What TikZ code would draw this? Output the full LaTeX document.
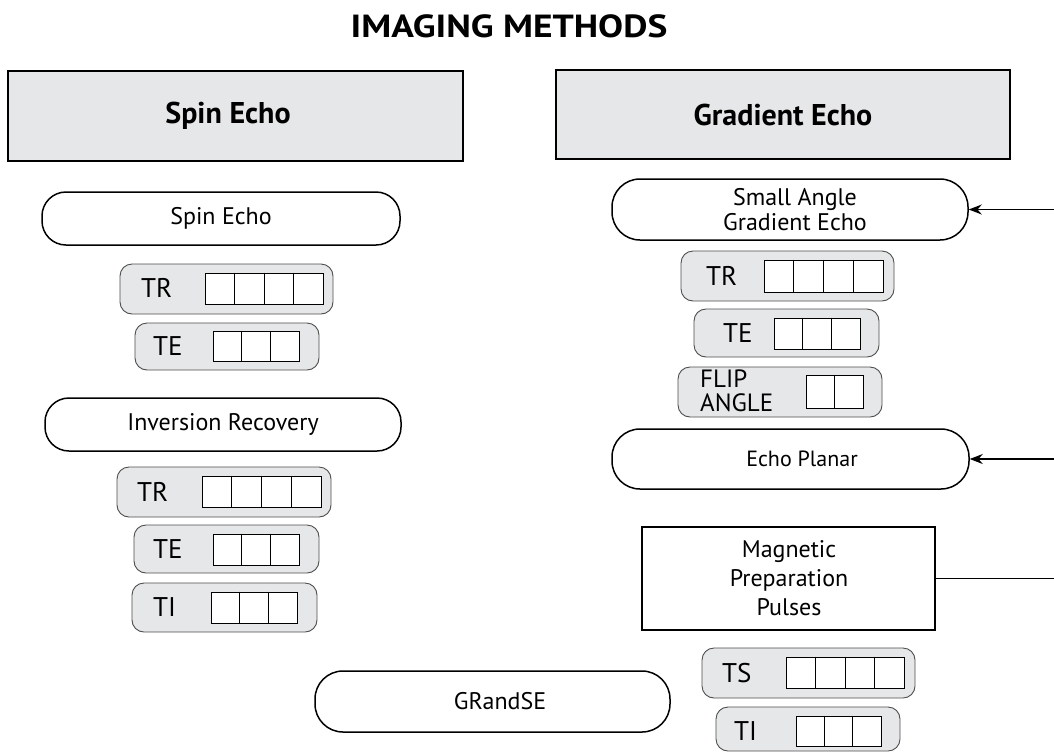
\documentclass[tikz,border=0pt]{standalone}
\usepackage{fontspec}
\usepackage{graphicx}
\setmainfont{PT Sans}
\usetikzlibrary{arrows.meta,calc}
\definecolor{boxgray}{HTML}{E6E7E8}
\definecolor{edgegray}{HTML}{4D4D4D}
\tikzset{
  hdr/.style={draw=black, line width=1.8pt, fill=boxgray, inner sep=0pt},
  hdrtext/.style={font=\fontsize{30}{34}\selectfont\bfseries},
  pill/.style={draw=black, line width=1.5pt, fill=white, inner sep=0pt, align=center, font=\fontsize{24}{27}\selectfont},
  pbox/.style={draw=edgegray, line width=0.9pt, fill=boxgray, rounded corners=12pt, inner sep=0pt},
  plabel/.style={font=\fontsize{27}{27}\selectfont, inner sep=0pt, anchor=west, align=left},
  cellbox/.style={draw=black, line width=0.9pt, fill=white, inner sep=0pt},
  cellline/.style={draw=black, line width=0.9pt},
  conn/.style={draw=black, line width=1.3pt},
  arr/.style={conn, -{Stealth[length=13pt,width=10pt]}},
}
\newcommand\sizednode[6]{% style, name, x1, y1, x2, y2
  \node[#1, minimum width={(#5-#3)*1pt}, minimum height={(#6-#4)*1pt}] (#2) at ({(#3+#5)/2},{(#4+#6)/2}) {};}
\newcommand\cellrow[6]{% name, x1, y1, x2, y2, n
  \sizednode{cellbox}{#1}{#2}{#3}{#4}{#5}
  \pgfmathtruncatemacro\ndiv{#6-1}
  \foreach \k in {1,...,\ndiv}{
    \draw[cellline] ($(#1.north west)!\k/#6!(#1.north east)$) -- ($(#1.south west)!\k/#6!(#1.south east)$);}
}
\begin{document}
\begin{tikzpicture}[x=1pt,y=-1pt]
\useasboundingbox (0,0) rectangle (1054,753);

\node[font=\fontsize{32}{36}\selectfont\bfseries, inner sep=0pt] (title) at (509,26) {\scalebox{1.17}[1]{IMAGING METHODS}};

% headers
\node[hdr, minimum width=455pt, minimum height=90pt] (hse) at (235.5,116) {};
\node[hdrtext, inner sep=0pt] (hset) at (228,116) {Spin Echo};
\node[hdr, minimum width=454pt, minimum height=89pt] (hge) at (783,114.5) {};
\node[hdrtext, inner sep=0pt] (hget) at (783,114.5) {Gradient Echo};

% left column
\node[pill, minimum width=358pt, minimum height=53pt, rounded corners=24pt] (pse) at (221,218.5) {Spin Echo};
\sizednode{pbox}{tr1}{120}{264}{333}{314}
\node[plabel] (tr1l) at (141,288) {TR};
\cellrow{tr1c}{205}{273}{323}{304}{4}
\sizednode{pbox}{te1}{135}{323}{319}{370}
\node[plabel] (te1l) at (153,346) {TE};
\cellrow{te1c}{213}{331}{299}{361}{3}

\node[pill, minimum width=356pt, minimum height=53pt, rounded corners=24pt] (pir) at (223,424.5) {Inversion Recovery};
\sizednode{pbox}{tr2}{117}{467}{331}{517}
\node[plabel] (tr2l) at (137,492) {TR};
\cellrow{tr2c}{202}{476}{321}{507}{4}
\sizednode{pbox}{te2}{134}{525}{319}{573}
\node[plabel] (te2l) at (153,549) {TE};
\cellrow{te2c}{213}{534}{299}{565}{3}
\sizednode{pbox}{ti2}{132}{583}{317}{632}
\node[plabel] (ti2l) at (153,607) {TI};
\cellrow{ti2c}{211}{592}{297}{623}{3}

\node[pill, minimum width=355pt, minimum height=61pt, rounded corners=28pt] (pgse) at (492.5,701.5) {};
\node[font=\fontsize{24}{27}\selectfont, inner sep=0pt] (pgset) at (500,701.5) {GRandSE};

% right column
\node[pill, minimum width=356pt, minimum height=61pt, rounded corners=28pt, font=\fontsize{24}{25}\selectfont] (psag) at (790,209.5) {};
\node[font=\fontsize{24}{25}\selectfont, inner sep=0pt, align=center] (psagt) at (795,209.5) {Small Angle\\Gradient Echo};
\sizednode{pbox}{tr3}{681}{251}{894}{301}
\node[plabel] (tr3l) at (706,276) {TR};
\cellrow{tr3c}{764}{260}{883}{292}{4}
\sizednode{pbox}{te3}{694}{309}{879}{357}
\node[plabel] (te3l) at (723,333) {TE};
\cellrow{te3c}{774}{318}{860}{349}{3}
\sizednode{pbox}{fa3}{678}{367}{882}{417}
\node[plabel, font=\fontsize{25}{24}\selectfont] (fa3l) at (700,391) {FLIP\\ANGLE};
\cellrow{fa3c}{806}{375}{863}{408}{2}

\node[pill, minimum width=357pt, minimum height=60pt, rounded corners=28pt] (pep) at (790.5,459) {};
\node[font=\fontsize{22}{27}\selectfont, inner sep=0pt] (pept) at (802,459) {Echo Planar};

\node[draw=black, line width=1.5pt, fill=white, minimum width=293pt, minimum height=103pt, inner sep=0pt] (mpp) at (788.5,578.5) {};
\node[align=center, font=\fontsize{24}{29}\selectfont, inner sep=0pt] (mppt) at (789,578.5) {Magnetic\\Preparation\\Pulses};

\sizednode{pbox}{ts4}{702}{648}{915}{698}
\node[plabel] (ts4l) at (722,673) {TS};
\cellrow{ts4c}{786}{657}{904}{688}{4}
\sizednode{pbox}{ti4}{716}{707}{900}{751}
\node[plabel] (ti4l) at (734,731) {TI};
\cellrow{ti4c}{796}{716}{881}{746}{3}

% connectors
\coordinate (a1) at (1054,209.5);
\coordinate (a2) at (1054,459);
\coordinate (a3) at (1054,578.5);
\draw[arr] (a1) -- (psag.east);
\draw[arr] (a2) -- (pep.east);
\draw[conn] (a3) -- (mpp.east);
\end{tikzpicture}
\end{document}
